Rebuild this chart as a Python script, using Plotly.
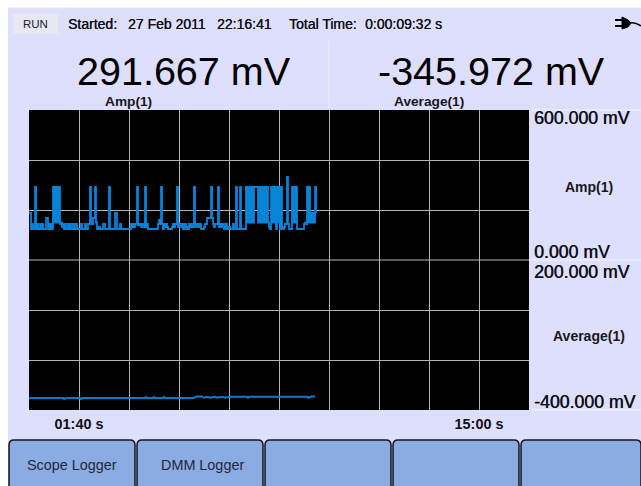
import plotly.graph_objects as go

W, H = 641, 486
FONT = "Liberation Sans"

# ---- data ----
# Amp(1) in mV, one reading every 2 s
amp_values = [
    188,188,124,144,124,132,292,124,144,124,
    124,144,124,144,124,124,124,168,168,124,
    144,124,144,124,292,150,292,150,292,150,
    292,144,150,132,144,124,144,124,124,144,
    124,144,124,124,144,124,124,144,124,124,
    124,124,144,124,124,124,144,124,124,144,
    144,292,150,144,168,168,292,150,124,124,
    132,124,124,124,144,144,124,124,124,124,
    292,124,124,124,124,124,188,188,124,124,
    124,144,124,124,124,124,124,124,124,124,
    124,124,144,132,144,132,144,144,292,140,
    144,144,132,144,144,132,292,132,144,124,
    124,124,124,124,124,124,124,124,124,144,
    160,144,292,144,124,144,132,144,132,124,
    124,124,124,132,144,132,144,144,292,132,
    144,144,132,144,124,124,144,132,124,124,
    144,132,144,132,132,292,144,132,144,144,
    132,144,124,124,124,132,144,144,168,168,
    168,168,292,168,144,132,144,144,144,292,
    132,144,132,144,144,124,132,144,124,124,
    132,124,124,124,144,124,124,292,124,124,
    124,292,124,124,124,124,124,292,150,292,
    150,292,150,292,150,292,292,292,292,150,
    292,150,292,150,292,150,292,150,292,150,
    130,124,292,150,292,150,292,124,292,150,
    292,124,292,130,124,132,144,144,332,144,
    124,124,124,292,150,292,150,292,124,124,
    124,124,124,124,124,144,150,144,292,150,
    292,150,188,150,188,150,292,188,
]
amp_times = [i * 2 for i in range(len(amp_values))]

# Average(1) in mV
avg_times = [0, 4, 68, 70, 74, 102, 104, 108, 232, 234, 236, 248, 250, 252,
             268, 270, 272, 330, 334, 346, 350, 356, 362, 372, 376, 386, 392,
             398, 402, 436, 438, 440, 556, 558, 564, 572]
avg_values = [-354, -352, -352, -356, -352, -352, -356, -352, -352, -348, -352,
              -352, -348, -352, -352, -348, -352, -352, -346, -346, -351, -347,
              -351, -347, -351, -347, -351, -347, -347, -347, -351, -347, -347,
              -351, -346, -346]

x_tick_values = [0, 100, 200, 300, 400, 500, 600, 700, 800, 900, 1000]
x_tick_labels = ["", "01:40 s", "", "", "", "", "", "", "", "15:00 s", ""]
amp_grid = [0, 200, 400]
avg_grid = [-200, 0]

readings = [("291.667 mV", 184, "Amp(1)", 128.5), ("-345.972 mV", 491, "Average(1)", 429)]
side_labels = [("600.000 mV", 118), ("Amp(1)", 187), ("0.000 mV", 252),
               ("200.000 mV", 272), ("Average(1)", 336), ("-400.000 mV", 402)]
buttons = ["Scope Logger", "DMM Logger", "", "", ""]
button_centers = [71.5, 202.5, 328, 456, 581]
button_edges = [8, 136, 264, 392, 520, 641]

# ---- pixel helpers for the instrument chrome ----
px = lambda v: v / W
py = lambda v: 1 - v / H


def label(text, x, y, size, color="#101018", anchor="center", bold=False, shadow=None):
    return dict(text=text, x=px(x), y=py(y), xref="paper", yref="paper",
                xanchor=anchor, yanchor="middle", showarrow=False,
                font=dict(family=FONT, size=size, color=color,
                          weight="bold" if bold else "normal",
                          shadow=shadow or "none"))


fig = go.Figure()
fig.add_trace(go.Scatter(x=amp_times, y=amp_values, mode="lines", xaxis="x", yaxis="y",
                         line=dict(color="#0783d8", width=1.8, shape="hv"), showlegend=False))
fig.add_trace(go.Scatter(x=avg_times, y=avg_values, mode="lines", xaxis="x", yaxis="y2",
                         line=dict(color="#0a7cc8", width=2), showlegend=False))

shapes = [
    dict(type="rect", x0=0, x1=1, y0=py(8), y1=1, xref="paper", yref="paper",
         fillcolor="white", line_width=0, layer="below"),
    dict(type="line", x0=px(8), x1=1, y0=py(8), y1=py(8), xref="paper", yref="paper",
         line=dict(color="#ece6dc", width=1), layer="below"),
    dict(type="rect", x0=0, x1=px(8), y0=0, y1=1, xref="paper", yref="paper",
         fillcolor="white", line_width=0, layer="below"),
    dict(type="rect", x0=px(13), x1=px(58), y0=py(34), y1=py(14), xref="paper", yref="paper",
         fillcolor="#e8e8f0", line_width=0, layer="below"),
    dict(type="line", x0=px(329), x1=px(329), y0=py(110), y1=py(40), xref="paper", yref="paper",
         line=dict(color="#ececfa", width=1), layer="below"),
    dict(type="line", x0=px(529), x1=1, y0=py(110), y1=py(110), xref="paper", yref="paper",
         line=dict(color="#f4f4fc", width=1), layer="below"),
    dict(type="line", x0=px(529), x1=1, y0=py(260), y1=py(260), xref="paper", yref="paper",
         line=dict(color="#f4f4fc", width=1), layer="below"),
    dict(type="line", x0=px(529), x1=1, y0=py(410), y1=py(410), xref="paper", yref="paper",
         line=dict(color="#f4f4fc", width=1), layer="below"),
    dict(type="line", x0=px(29), x1=px(529), y0=py(260), y1=py(260), xref="paper", yref="paper",
         line=dict(color="#b4b4ac", width=1), layer="above"),
    # plug icon
    dict(type="path", xref="paper", yref="paper", layer="above",
         path=f"M {px(622)} {py(17)} L {px(628)} {py(20)} L {px(631)} {py(23)} "
              f"L {px(628)} {py(27)} L {px(622)} {py(29)} Z",
         fillcolor="#000000", line=dict(color="#000000", width=1)),
    dict(type="line", x0=px(615), x1=px(623), y0=py(20), y1=py(20), xref="paper", yref="paper",
         line=dict(color="#000000", width=2)),
    dict(type="line", x0=px(615), x1=px(623), y0=py(26), y1=py(26), xref="paper", yref="paper",
         line=dict(color="#000000", width=2)),
    dict(type="path", xref="paper", yref="paper",
         path=f"M {px(630)} {py(23)} Q {px(635)} {py(22)} {px(641)} {py(26)}",
         line=dict(color="#000000", width=1.5)),
]

HEAD_SHADOW = "0.25px 0 0 #101018"
annotations = [
    label("RUN", 35.5, 24, 11.5, color="#202030"),
    label("Started:", 66, 24.5, 14, anchor="left", shadow=HEAD_SHADOW),
    label("27 Feb 2011", 126, 24.5, 14, anchor="left", shadow=HEAD_SHADOW),
    label("22:16:41", 215, 24.5, 14, anchor="left", shadow=HEAD_SHADOW),
    label("Total Time:", 287, 24.5, 14, anchor="left", shadow=HEAD_SHADOW),
    label("0:00:09:32 s", 363, 24.5, 14, anchor="left", shadow=HEAD_SHADOW),
]
for value, vx, name, nx in readings:
    annotations.append(label(value, vx, 71, 39.5, color="#000000"))
    annotations.append(label(name, nx, 101, 13.7, bold=True, color="#181820"))
for text, y in side_labels:
    if "mV" in text:
        annotations.append(label(text, 532, y, 17.7, anchor="left", color="#101018",
                                 shadow="0.45px 0 0 #101018"))
    else:
        annotations.append(label(text, 589, y, 14, bold=True, color="#181820"))

for i, text in enumerate(buttons):
    x0, x1 = button_edges[i] + 1, button_edges[i + 1] - (0 if i == 4 else 1)
    r = 5
    shapes.append(dict(
        type="path", xref="paper", yref="paper", layer="below",
        path=f"M {px(x0)} {py(490)} L {px(x0)} {py(440 + r)} Q {px(x0)} {py(440)} {px(x0 + r)} {py(440)} "
             f"L {px(x1 - r)} {py(440)} Q {px(x1)} {py(440)} {px(x1)} {py(440 + r)} L {px(x1)} {py(490)} Z",
        fillcolor="#8aace2", line=dict(color="#14141c", width=1.5)))
    if text:
        annotations.append(label(text, button_centers[i], 465, 14.4, color="#242838"))

fig.update_layout(
    width=W, height=H, autosize=False,
    margin=dict(l=0, r=0, t=0, b=0),
    paper_bgcolor="#dedefd", plot_bgcolor="#000000",
    showlegend=False, shapes=shapes, annotations=annotations,
    font=dict(family=FONT),
    xaxis=dict(domain=[px(29), px(529)], range=[0, 1000], anchor="y2",
               tickmode="array", tickvals=x_tick_values, ticktext=x_tick_labels,
               showgrid=True, gridcolor="#b4b4ac", gridwidth=1, zeroline=False,
               ticks="", ticklabelstandoff=4, showline=False,
               tickfont=dict(family=FONT, size=14.4, color="#101018", weight="bold")),
    yaxis=dict(domain=[py(260), py(110)], range=[0, 600], anchor="x",
               tickmode="array", tickvals=amp_grid, showticklabels=False,
               showgrid=True, gridcolor="#b4b4ac", gridwidth=1, zeroline=False),
    yaxis2=dict(domain=[py(410), py(260)], range=[-400, 200], anchor="x",
                tickmode="array", tickvals=avg_grid, showticklabels=False,
                showgrid=True, gridcolor="#b4b4ac", gridwidth=1, zeroline=False),
)

fig.write_html("out.html", config={"displayModeBar": False},
               post_script="document.body.style.margin='0';document.documentElement.style.overflow='hidden';")
